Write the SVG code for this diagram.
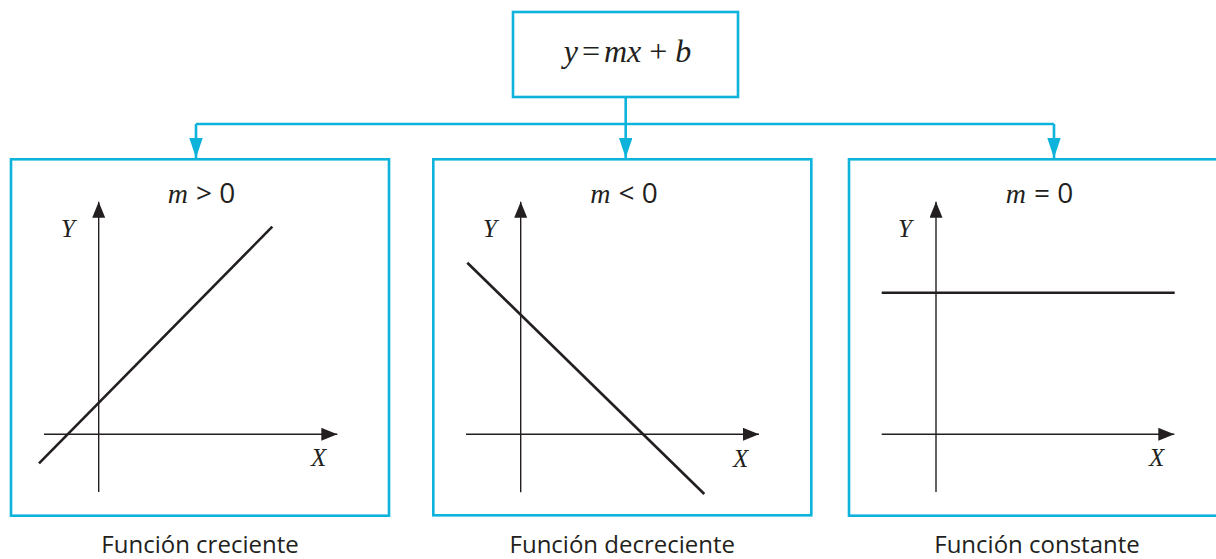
<svg xmlns="http://www.w3.org/2000/svg" width="1216" height="559" viewBox="0 0 1216 559">
<style>
.box{fill:#fff;stroke:#0db3da;stroke-width:2.6}
.conn{fill:none;stroke:#0db3da;stroke-width:2.6}
.axis{fill:none;stroke:#231f20;stroke-width:1.4}
.fn{fill:none;stroke:#231f20;stroke-width:2.6}
.ser{font-family:"Liberation Serif",serif;fill:#231f20}
.it{font-style:italic}
.sans{font-family:"Open Sans","Noto Sans",sans-serif;fill:#231f20;font-size:28px}
.lbl{font-size:28px;text-anchor:middle}
.cap{font-family:"Open Sans","Noto Sans",sans-serif;fill:#231f20;font-size:24px;text-anchor:middle}
</style>
<defs>
<marker id="ah" markerUnits="userSpaceOnUse" markerWidth="17" markerHeight="14" refX="16" refY="6.5" orient="auto">
<path d="M0,0 L16,6.5 L0,13 z" fill="#231f20"/>
</marker>
<marker id="ch" markerUnits="userSpaceOnUse" markerWidth="21" markerHeight="14" refX="20" refY="6.7" orient="auto">
<path d="M0,0 L20,6.7 L0,13.4 z" fill="#0db3da"/>
</marker>
</defs>

<g id="connectors">
<line class="conn" x1="625.7" y1="97" x2="625.7" y2="158" marker-end="url(#ch)"/>
<line class="conn" x1="196" y1="124" x2="1054" y2="124"/>
<line class="conn" x1="196" y1="124" x2="196" y2="158" marker-end="url(#ch)"/>
<line class="conn" x1="1054" y1="124" x2="1054" y2="158" marker-end="url(#ch)"/>
</g>

<g id="root">
<rect class="box" x="513" y="12" width="225" height="85"/>
<text class="ser" x="627.5" y="62" font-size="32" text-anchor="middle"><tspan class="it">y</tspan><tspan dx="4">=</tspan><tspan class="it" dx="4">mx</tspan> + <tspan class="it">b</tspan></text>
</g>

<g id="panel-creciente">
<rect class="box" x="11" y="159.3" width="378" height="356.4"/>
<text class="lbl" x="201.5" y="203.3"><tspan class="ser it">m</tspan><tspan class="sans" dx="8">&gt; 0</tspan></text>
<line class="axis" x1="98.7" y1="492" x2="98.7" y2="201.7" marker-end="url(#ah)"/>
<line class="axis" x1="44" y1="434.3" x2="337.3" y2="434.3" marker-end="url(#ah)"/>
<line class="fn" x1="39" y1="463.3" x2="272.3" y2="226.7"/>
<text class="ser it" x="61" y="236.7" font-size="25">Y</text>
<text class="ser it" x="311" y="466" font-size="25">X</text>
<text class="cap" x="200" y="553">Función creciente</text>
</g>

<g id="panel-decreciente">
<rect class="box" x="433.3" y="159.3" width="378" height="356"/>
<text class="lbl" x="624" y="203.3"><tspan class="ser it">m</tspan><tspan class="sans" dx="8">&lt; 0</tspan></text>
<line class="axis" x1="520.7" y1="492.3" x2="520.7" y2="201.7" marker-end="url(#ah)"/>
<line class="axis" x1="466" y1="434.3" x2="759" y2="434.3" marker-end="url(#ah)"/>
<line class="fn" x1="467.3" y1="262.7" x2="704.3" y2="494"/>
<text class="ser it" x="483" y="236.7" font-size="25">Y</text>
<text class="ser it" x="733" y="466.7" font-size="25">X</text>
<text class="cap" x="622.3" y="553">Función decreciente</text>
</g>

<g id="panel-constante">
<rect class="box" x="849" y="159.3" width="380" height="356.4"/>
<text class="lbl" x="1039.5" y="203.3"><tspan class="ser it">m</tspan><tspan class="sans" dx="8">= 0</tspan></text>
<line class="axis" x1="936" y1="492" x2="936" y2="201.7" marker-end="url(#ah)"/>
<line class="axis" x1="881.7" y1="434.3" x2="1174.3" y2="434.3" marker-end="url(#ah)"/>
<line class="fn" x1="881.7" y1="292.7" x2="1174.7" y2="292.7"/>
<text class="ser it" x="898" y="236.7" font-size="25">Y</text>
<text class="ser it" x="1149" y="466" font-size="25">X</text>
<text class="cap" x="1037" y="553">Función constante</text>
</g>
</svg>
